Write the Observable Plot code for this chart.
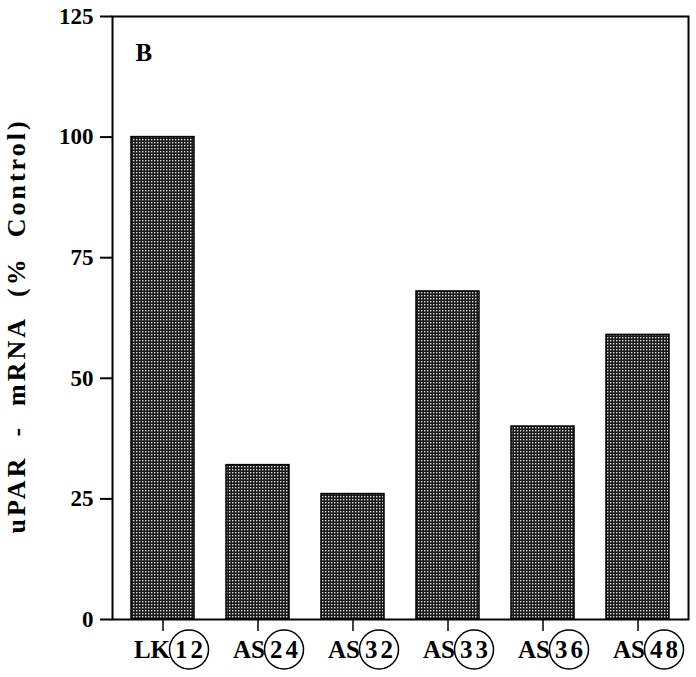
<!DOCTYPE html>
<html><head><meta charset="utf-8">
<script src="https://cdn.jsdelivr.net/npm/d3@7"></script>
<script src="https://cdn.jsdelivr.net/npm/@observablehq/plot@0.6"></script>
<style>
body{margin:0;background:#fff}
#chart svg, #chart svg text{font-family:"Liberation Serif","Times New Roman",serif !important;font-weight:bold}
#chart svg g[aria-label="y-axis tick label"]{font-size:23px}
#chart svg .ylab{letter-spacing:3px}
#chart svg .num{letter-spacing:3px}
</style>
</head><body><div id="chart"></div>
<script>
const prefixes = ["LK","AS","AS","AS","AS","AS"];
const numbers = ["12","24","32","33","36","48"];
const values = [100, 32, 26, 68, 40, 59];
const yTicks = [0, 25, 50, 75, 100, 125];
const yLabel = "uPAR\u00a0\u00a0-\u00a0\u00a0mRNA\u00a0\u00a0(%\u00a0\u00a0Control)";
const panel = "B";

const data = prefixes.map((p, i) => ({name: p + numbers[i], prefix: p, num: numbers[i], value: values[i]}));
const font = "Liberation Serif";

const chart = Plot.plot({
  width: 696, height: 677,
  marginLeft: 112, marginRight: 8, marginTop: 16, marginBottom: 58,
  style: {fontFamily: font, fontWeight: "bold", background: "#fff", color: "#000"},
  x: {domain: data.map(d => d.name), paddingInner: 0.333, paddingOuter: 0.1667, align: 0.5},
  y: {domain: [0, 125]},
  marks: [
    Plot.barY(data, {x: "name", y: "value", fill: "url(#chk)", stroke: "#000", strokeWidth: 1.5}),
    Plot.frame({stroke: "#000", strokeWidth: 2}),
    Plot.axisY({ticks: yTicks, tickSize: 12, tickPadding: 7, fontSize: 23, label: null, strokeWidth: 2}),
    Plot.axisX({tickSize: 12, tickFormat: () => "", label: null, strokeWidth: 1.5}),
    Plot.dot(data, {x: "name", frameAnchor: "bottom", dx: 26, dy: 30, r: 19.5, stroke: "#000", strokeWidth: 1.5, fill: "none"}),
    Plot.text(data, {x: "name", text: "prefix", frameAnchor: "bottom", dx: 7, dy: 30, textAnchor: "end", lineAnchor: "middle", fontSize: 25, fontFamily: font}),
    Plot.text(data, {x: "name", text: "num", frameAnchor: "bottom", dx: 27.5, dy: 30, textAnchor: "middle", lineAnchor: "middle", fontSize: 25, fontFamily: font, className: "num"}),
    Plot.text([yLabel], {text: d => d, frameAnchor: "left", rotate: -90, dx: -96, dy: 8, fontSize: 26, fontFamily: font, textAnchor: "middle", lineAnchor: "middle", className: "ylab"}),
    Plot.text([panel], {text: d => d, frameAnchor: "top-left", dx: 23, dy: 36, fontSize: 25, fontFamily: font, textAnchor: "start", lineAnchor: "middle"})
  ]
});

const svgNS = "http://www.w3.org/2000/svg";
const defs = document.createElementNS(svgNS, "defs");
defs.innerHTML = '<pattern id="chk" width="3" height="3" patternUnits="userSpaceOnUse"><rect width="3" height="3" fill="#1a1a1a"/><rect x="1" y="1" width="1.4" height="1.4" fill="#d8d8d8"/></pattern>';
chart.insertBefore(defs, chart.firstChild);
document.getElementById("chart").appendChild(chart);
</script></body></html>
